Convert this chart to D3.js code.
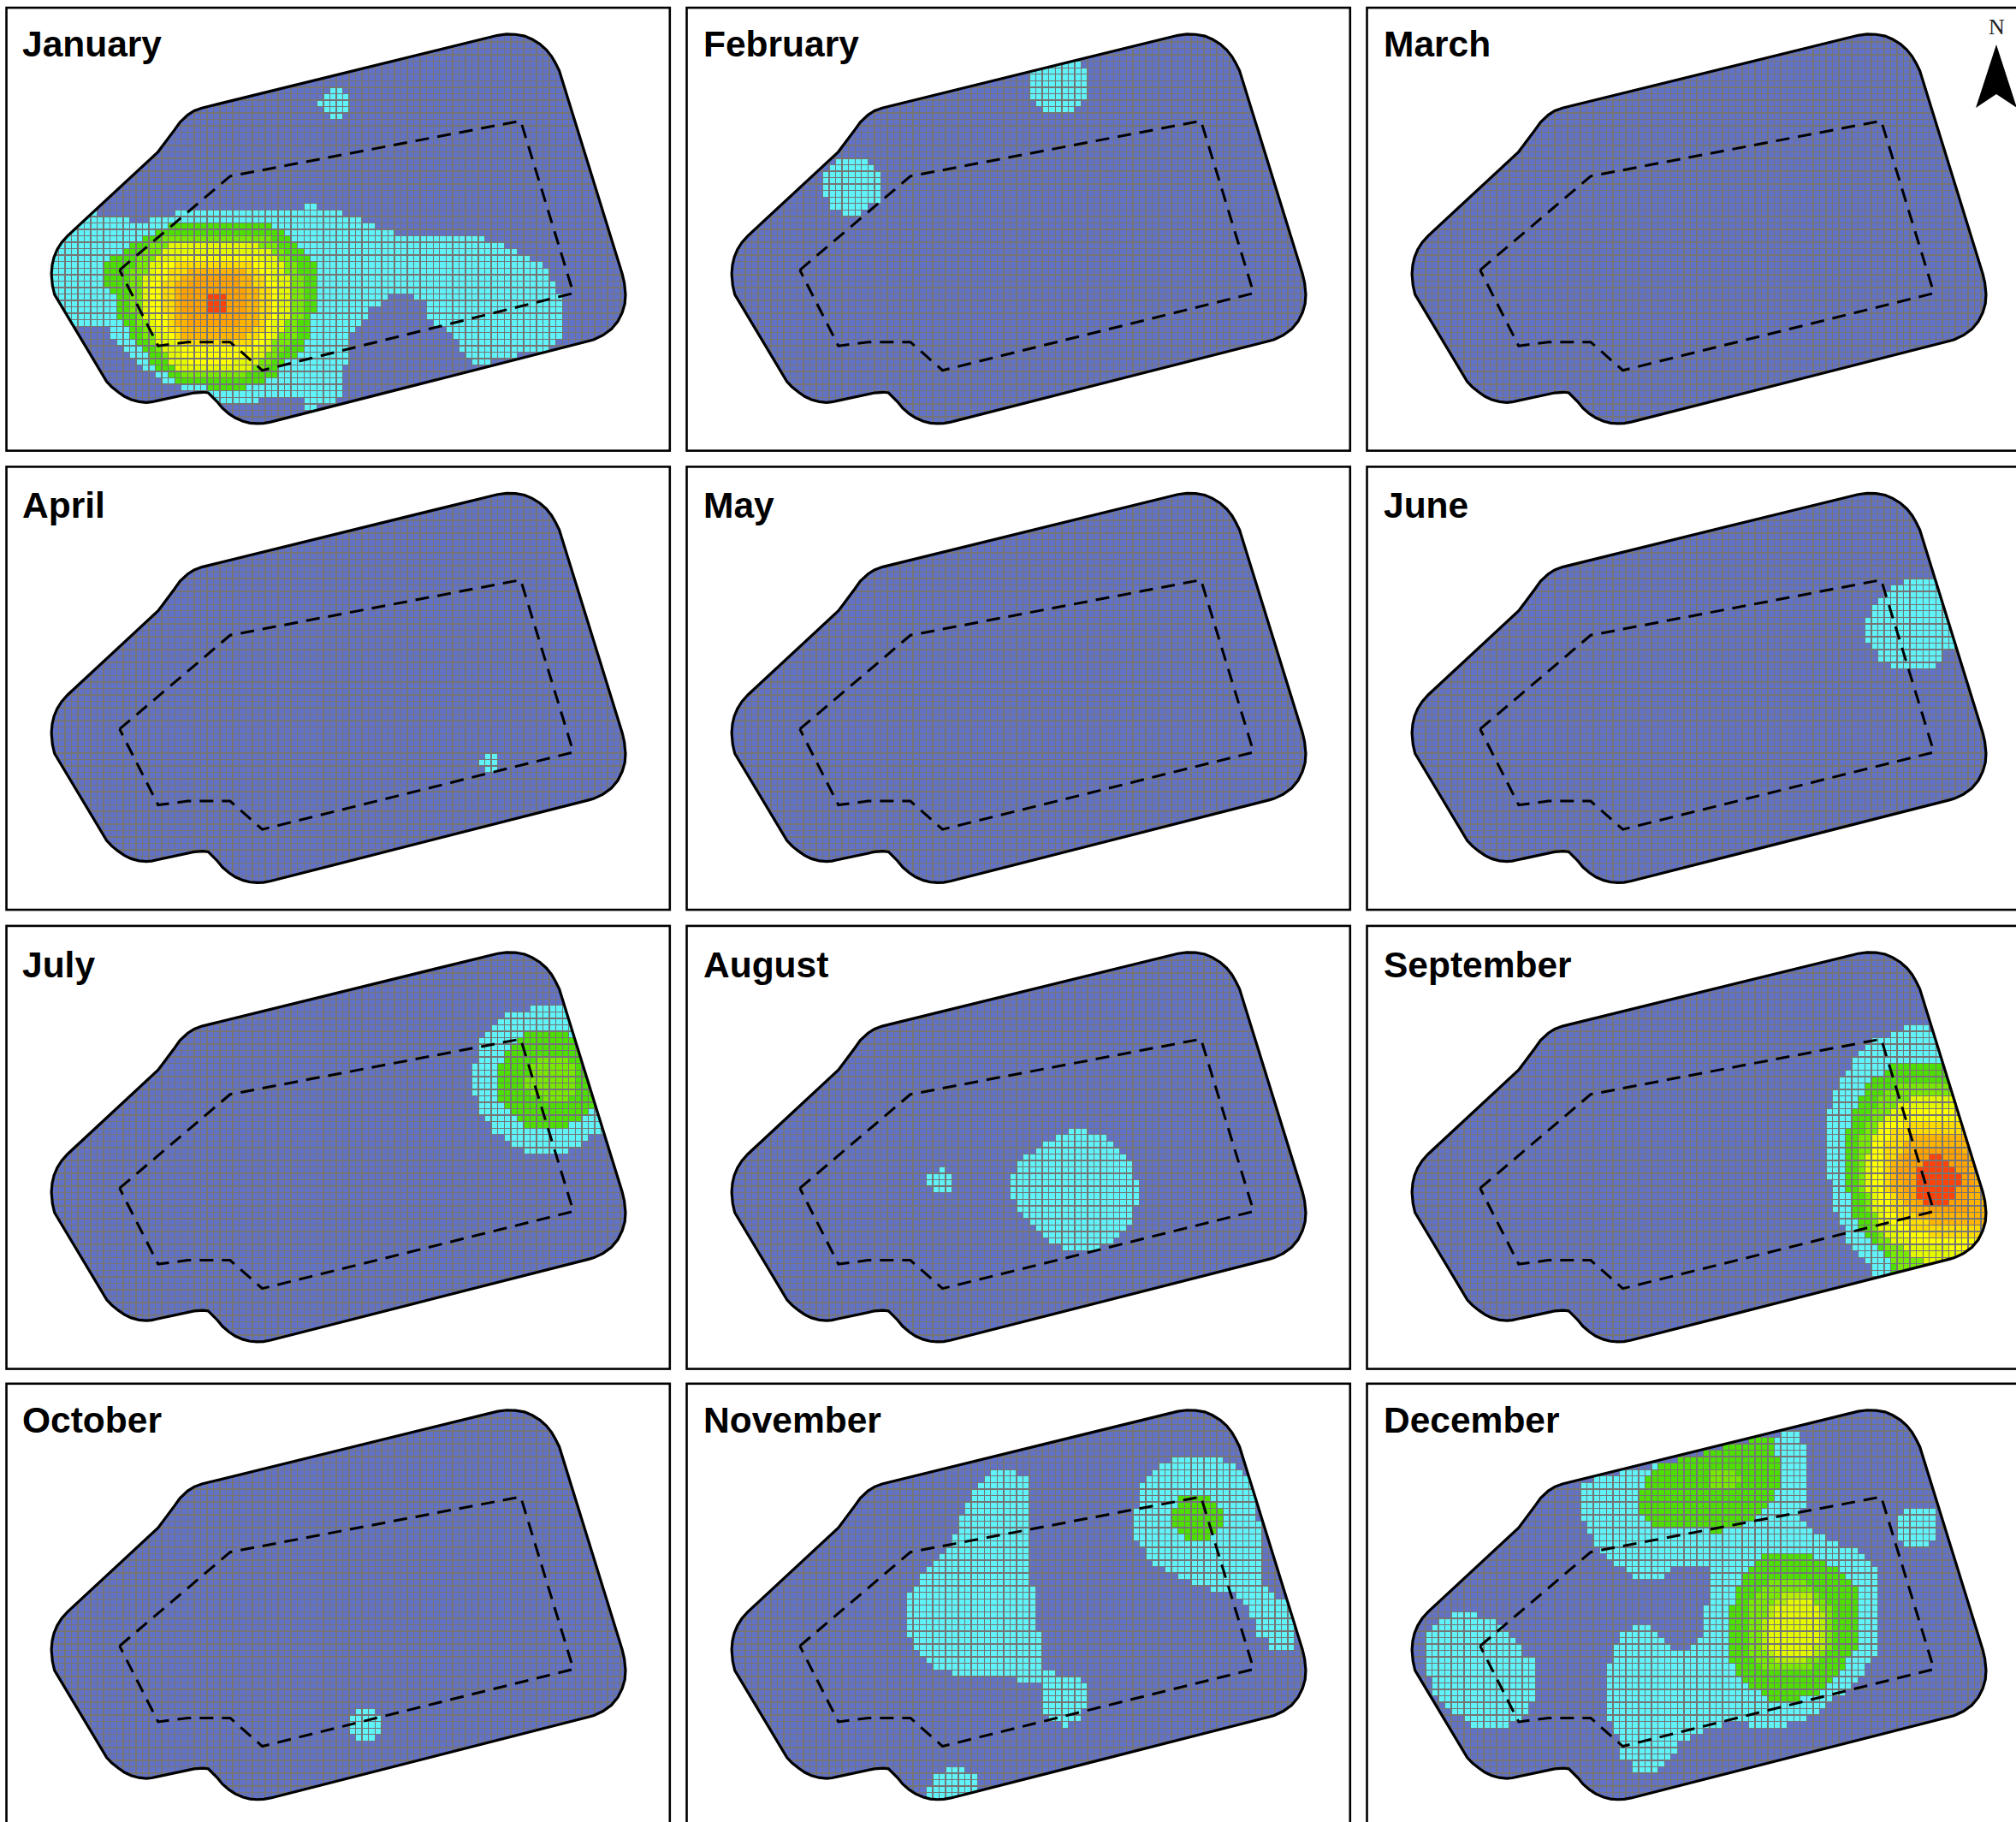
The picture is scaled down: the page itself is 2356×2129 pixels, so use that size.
<!DOCTYPE html>
<html><head><meta charset="utf-8"><style>html,body{margin:0;padding:0;background:#fff}svg{display:block}</style>
<script src="https://cdn.jsdelivr.net/npm/d3@7/dist/d3.min.js"></script></head><body><svg id="c" width="2356" height="2129"></svg>
<script>
const monthNames=["January","February","March","April","May","June","July","August","September","October","November","December"];
const levelColors=["#6272c6","#5ff2f8","#4be000","#78ea00","#b4f000","#e4f800","#ffff00","#ffdc00","#ffb400","#ffa200","#ff4208"];
const siteBoundary=[[387,27.5],[394,26.6],[401,26.8],[408,28],[414,30.6],[420,34.3],[425,38.8],[429,43.8],[432,49],[435,55],[484,213],[485.6,220],[486.5,229],[486,236],[484,243],[480.5,250],[475.5,256],[469,260.7],[462,264],[458.5,265],[210.5,328.2],[205,329.2],[200,329.4],[194.5,329],[189,327.6],[183,325],[178,321.7],[173,317.4],[169,312.5],[162,305.5],[158,305],[151,305.5],[122,311.7],[118,312.6],[113.8,313],[108,312.4],[102,310.8],[96.8,308.3],[92,305],[87,301],[83,296.8],[42.4,229],[40.8,222],[40,213],[40.6,206],[42,200],[44.5,194],[48,188.5],[52.6,183.4],[123,118],[127.5,112],[135.8,100.9],[140,95],[146,89.4],[151,86.2],[157,84],[163,82.5]];
const plantBoundary=[[93,210],[179,137],[405,94],[446,228],[204,288],[179,266],[146,266],[123,269],[93,210]];
const gridOrigin=[161.05,228.6],gridStep=5.025,gridCols=[-25,66],gridRows=[-42,22];

const january=[
[1,[[76,163],[80,168.5],[100,168.5],[100,173],[115,173],[115,168.5],[136,168.5],[136,163],[236,163],[236,158],[246,158],[246,163],[267,163],[267,168.5],[282,168.5],[282,173],[292,173],[292,178],[307,178],[307,183],[377,183],[377,188],[392,188],[392,194],[402,194],[402,199],[412,199],[418,204],[423,209],[428,214],[433,225],[438,229],[438,265],[433,265],[433,270],[368,284],[368,278.5],[363,278.5],[358,270],[353,263.5],[343,254],[333,249],[333,238],[326,232.6],[317.5,228],[307,228],[297,234],[292,238],[282,249],[277,254],[272,259],[272,285],[267,285],[267,309.4],[251,314],[236,320],[236,309.4],[200,309.4],[200,314],[170,314],[163,306],[141,305],[141,300],[131,299],[120.5,293],[115.5,289],[110,284],[105,278.5],[100,274],[95,268],[90,263.6],[85,258],[80,253],[44,253],[10,229],[10,195],[51,181]]],
[1,[[256,68],[267,68],[267,73],[272,73],[272,87],[267,87],[267,92],[256,92],[256,87],[251,87],[251,82.5],[246,82.5],[246,78],[251,78],[251,73],[256,73]]],
[2,[[141,173],[200,173],[216,178],[226,183],[231,188],[236,194],[241,199],[246,204],[246,243],[241,249],[241,263.5],[236,268],[236,274],[226,278.5],[217,284],[216,293],[205,294.5],[205,299],[182,304],[141,299],[131,293],[120.5,284],[115.5,278.5],[105,268],[100,258],[90,243],[90,229],[80,222],[80,209],[90,199],[105,189],[115.5,183],[126,178]]],
[3,[[131,183],[204,183],[217,190],[226,199],[236,218],[236,243],[231,259],[221,272],[210.5,284],[190,293],[146,293],[131,284],[115.5,268],[105,250],[100,229],[100,215],[105,202],[119,189]]],
[5,[[136,188],[197,188],[210.5,195],[221,206],[226,222],[226,243],[221,257],[210.5,268],[207,279],[190,289],[141,289],[131,279],[120.5,263.5],[115.5,254],[110,243],[110,223.5],[115.5,206],[126,197]]],
[6,[[146,199],[197,199],[210.5,208.6],[217,227],[217,243],[210.5,259],[200,274],[180,283],[149.4,283],[136,268],[122,252],[117,238],[117,222],[126,206]]],
[7,[[141,204],[195,204],[207,218],[212,238],[207,254],[195,268],[141,268],[131,254],[126,238],[126,222],[132,210]]],
[8,[[146,208],[186,208],[197,218],[202,235],[202,250],[190,262],[143,263.5],[136,250],[136,222]]],
[9,[[150,215],[183,215],[192,228],[192,245],[183,255],[150,255],[143,245],[143,225]]],
[10,[[161,228.6],[176,228.6],[176,243.6],[161,243.6]]]];
const february=[
[1,[[271.8,57.7],[276.7,50],[311.8,45],[311.8,53.3],[317.3,53.3],[317.3,77.7],[311.8,77.7],[311.8,82.5],[306.9,82.5],[306.9,87.6],[281.8,87.6],[281.8,82.5],[276.7,82.5],[276.7,77.7],[271.8,77.7]]],
[1,[[121.4,123.1],[145.8,123.1],[145.8,128.2],[151,128.2],[151,133.1],[156,133.1],[156,157.5],[151,157.5],[145.8,162.4],[141,167.5],[126.5,167.5],[126.5,162.4],[116.6,162.4],[116.6,153.1],[111.5,153.1],[111.5,133.1],[116.6,133.1],[116.6,128.2],[121.4,128.2]]]];
const march=[];
const april=[[1,[[377.1,228.6],[387.2,228.6],[387.2,243.7],[377.1,243.7],[377.1,238.7],[372.1,238.7],[372.1,233.6],[377.1,233.6]]]];
const may=[];
const june=[[1,[[423.2,93],[450,93],[470,147.1],[458.2,147.1],[453.1,152.2],[453.1,157.3],[448.3,157.3],[448.3,162.2],[412.8,162.2],[412.8,157.3],[402.8,157.3],[402.8,147.1],[397.7,147.1],[397.7,142.6],[392.8,142.6],[392.8,122.2],[397.7,122.2],[397.7,112.7],[402.8,112.7],[402.8,107.8],[407.7,107.8],[407.7,102.7],[412.8,102.7],[412.8,97.8],[423.2,97.8]]]];
const july=[
[1,[[412.5,66.8],[438,66.8],[441.4,72.4],[480,100],[480,166.6],[462.5,167.8],[452.5,172.2],[452.5,176.6],[442.5,176.6],[442.5,182.2],[408,182.2],[408,176.6],[397,176.6],[397,172.2],[392.6,172.2],[392.6,167.8],[382.6,166.6],[382.6,157.1],[377,157.1],[377,152.2],[372.6,152.2],[372.6,142.2],[367.7,136.7],[367.7,112.3],[372.6,112.3],[372.6,97.4],[377,92.3],[382.6,87.9],[387,82.4],[392.6,76.8],[398,72.4],[412.5,72.4]]],
[2,[[402.6,92.3],[407,92.3],[407,87.2],[442.5,87.2],[445,92.3],[480,120],[480,146.7],[458,146.7],[458,152.2],[452.5,152.2],[452.5,157.3],[442.5,157.3],[442.5,162.2],[408,162.2],[408,157.3],[402.6,157.3],[402.6,152.2],[397.5,152.2],[397.5,147.1],[392.6,147.1],[392.6,142.2],[387.7,142.2],[387.7,112.3],[392.6,112.3],[392.6,102.3],[397.5,102.3],[397.5,97.4],[402.6,97.4]]],
[3,[[419,106.8],[438,106.8],[448,116.7],[448,135.6],[441.4,142.2],[422.5,142.2],[412.5,135.6],[407,126.7],[412.5,115.6]]]];
const august=[
[1,[[302.4,162.6],[317.3,162.6],[317.3,167.7],[332.2,167.7],[332.2,172.6],[337.3,172.6],[337.3,177.7],[342.4,177.7],[342.4,182.6],[347.2,182.6],[347.2,187.7],[352.1,187.7],[352.1,202.6],[357.2,202.6],[357.2,222.1],[352.1,222.1],[352.1,237.2],[347.2,237.2],[347.2,242.1],[342.4,242.1],[342.4,247.6],[337.3,247.6],[337.3,252.7],[327.3,252.7],[327.3,257.6],[297.3,257.6],[297.3,252.7],[287.4,252.7],[287.4,247.6],[282.5,247.6],[282.5,242.1],[277.4,242.1],[277.4,237.2],[272.3,237.2],[272.3,232.1],[267.4,232.1],[267.4,227.2],[262.3,227.2],[262.3,217.2],[257.4,217.2],[257.4,197.7],[262.3,197.7],[262.3,187.7],[267.4,187.7],[267.4,182.6],[277.4,182.6],[277.4,177.7],[282.5,177.7],[282.5,172.6],[292.5,172.6],[292.5,167.7],[302.4,167.7]]],
[1,[[202,192.8],[206.4,192.8],[206.4,197.7],[211.3,197.7],[211.3,212.1],[196.9,212.1],[196.9,207.7],[192,207.7],[192,197.7],[202,197.7]]]];
const september=[
[1,[[423.8,82.4],[442.7,82.4],[450.5,93.5],[501.5,182.2],[501.5,277.6],[397.2,277.6],[397.2,273.2],[392.8,267.6],[387.2,262.5],[382.8,257.6],[377.3,252.1],[377.3,242.1],[372.8,236.6],[372.8,226.6],[367.7,226.6],[367.7,207.1],[362.8,202.2],[362.8,147.8],[367.7,142.3],[367.7,137.2],[372.8,132.3],[372.8,127.2],[377.3,122.3],[382.8,112.3],[387.2,107.2],[392.8,102.4],[397.7,96.8],[402.8,92.4],[412.7,92.4],[412.7,87.3],[423.8,87.3]]],
[2,[[417.6,112.3],[451.6,112.3],[501.5,182.2],[501.5,277.6],[412.7,277.6],[412.7,267.6],[402.8,258.7],[397.7,253.2],[392.8,247.7],[387.2,239.9],[382.8,232.1],[382.8,217.7],[377.3,207.7],[377.3,172.2],[382.8,152.3],[387.2,142.3],[392.8,132.3],[397.7,127.2],[402.8,122.3],[412.7,117.4]]],
[3,[[412.7,132.3],[434.9,126.8],[457,126.8],[501.5,182.2],[501.5,277.6],[419.4,277.6],[412.7,264.3],[402.8,251],[397.7,239.9],[392.8,224.4],[387.2,204.4],[387.2,177.8],[392.8,160],[402.8,142.3]]],
[5,[[438.3,137.8],[461.5,137.8],[501.5,182.2],[501.5,277.6],[452.7,277.6],[432.7,264.3],[422.7,257.6],[412.7,251],[402.8,239.9],[397.7,224.4],[392.8,208.8],[392.8,193.3],[397.7,173.3],[402.8,162.2],[412.7,147.8],[422.7,142.3]]],
[6,[[428.3,147.8],[463.8,147.8],[501.5,182.2],[501.5,257.6],[470.4,259.9],[457,255.4],[434.9,255.4],[422.7,246.5],[408.3,233.2],[402.8,215.5],[398.3,202.2],[398.3,180],[402.8,166.7],[412.7,157.8]]],
[7,[[432.7,157.8],[463.8,157.8],[501.5,182.2],[501.5,248.8],[479.3,248.8],[454.9,248.8],[432.7,244.3],[422.7,235.5],[412.7,224.4],[408.3,211],[408.3,177.8],[412.7,166.7],[422.7,160]]],
[8,[[432.7,167.8],[463.8,167.8],[501.5,182.2],[501.5,237.7],[477,237.7],[450.5,237.7],[432.7,233.2],[422.7,222.1],[412.7,208.8],[412.7,191],[422.7,177.8]]],
[9,[[438.3,177.8],[461.5,177.8],[472.6,186.6],[477,204.4],[472.6,226.6],[452.7,228.8],[434.9,224.4],[422.7,213.3],[417.6,197.7],[422.7,186.6],[432.7,182.2]]],
[10,[[443.1,182.9],[452.7,182.9],[452.7,187.8],[457.1,187.8],[457.1,192.9],[462.7,192.9],[462.7,197.7],[467.8,197.7],[467.8,207.3],[462.7,207.3],[462.7,217.3],[457.1,217.3],[457.1,222.1],[438.3,222.1],[438.3,217.3],[433.2,217.3],[433.2,192.9],[438.3,192.9],[438.3,187.8],[443.1,187.8]]]];
const october=[[1,[[276.9,258.8],[291.8,258.8],[291.8,263.9],[296.6,263.9],[296.6,278.8],[291.8,278.8],[291.8,283.6],[276.9,283.6],[276.9,278.8],[271.8,278.8],[271.8,263.9],[276.9,263.9]]]];
const november=[
[1,[[241.8,72.9],[261.6,72.9],[261.6,77.9],[266.6,77.9],[271.6,82.8],[271.6,143],[276.5,183.4],[281.5,208.1],[281.5,228.3],[291.4,228.3],[291.4,233.2],[311.3,233.2],[316.2,238.4],[316.2,258.6],[311.3,263.1],[311.3,268.3],[301.4,268.3],[301.4,273.2],[298,273.2],[298,268.3],[286.5,268.3],[281.5,257.5],[281.5,242.9],[276.5,238.4],[261.6,238.4],[261.6,232.8],[212,232.8],[212,228.3],[197,228.3],[187.1,218.2],[182.2,212.6],[177.2,202.5],[177.2,173.3],[182.2,163.2],[187.1,157.6],[192,148.6],[202,138.5],[212,128.4],[216.9,113.8],[221.9,103.7],[226.9,88],[231.8,82.4],[236.8,77.9],[241.8,77.9]]],
[1,[[382.5,62.6],[422.2,62.6],[422.2,67.8],[432.1,67.8],[437,72.9],[447,84.6],[448.7,107],[453.6,131.8],[453.6,163.2],[458.6,168.8],[468.5,173.3],[473.5,178.9],[478.5,196.9],[480,212.6],[458.6,212.6],[458.6,203.6],[448.7,203.6],[448.7,193.5],[443.7,187.9],[438.7,177.8],[428.8,168.8],[414,167.7],[414,163.2],[399,163.2],[399,157.6],[387.4,157.6],[387.4,153.1],[377.5,153.1],[377.5,147.5],[367.6,147.5],[362.6,138.5],[357.6,132.9],[352.7,122.8],[352.7,102.6],[357.6,98],[357.6,82.4],[362.6,77.9],[367.6,72.9],[372.6,67.8],[382.5,67.8]]],
[1,[[207,304.2],[221.9,304.2],[221.9,309.1],[226.9,309.1],[231.8,314.7],[231.8,325],[215.3,329.3],[192,329.3],[192,319.2],[197,314.7],[197,309.1],[207,309.1]]],
[2,[[387.4,93.1],[412.2,93.1],[412.2,98],[417.2,98],[422.2,103.7],[422.2,117.2],[412.2,122.8],[412.2,127.3],[392.4,127.3],[392.4,122.8],[382.5,116],[382.5,103.7],[387.4,99.2]]]];
const december=[
[1,[[71,183],[91,183],[91,188],[106,188],[106,193.5],[110.5,193.5],[115.5,202.5],[120.3,208],[125,212.6],[130,218],[135,219],[135,252.6],[130,254],[130,264],[120.3,268.7],[115.5,273],[91,273],[81,268],[76,263],[66,258.7],[61,253],[56,243],[51,228.3],[51,198],[61,189],[71,188]]],
[1,[[176.3,81.2],[230.7,68.9],[341,42],[342.6,52.7],[347.6,52.7],[347.6,98],[342.6,102.6],[342.6,112.7],[347.6,117.2],[357.5,123.9],[367.3,128.4],[382.2,134],[392,138.5],[402,148.6],[402,218.2],[397,223.8],[392,228.3],[387,238.4],[372.3,248.5],[357.5,258.6],[347.6,267.6],[332.8,267.6],[332.8,273.2],[303,273.2],[303,268.3],[267,273.2],[267,278.1],[247,283.3],[247,287.8],[240.5,298],[235.6,303.5],[225.7,308],[212.5,308],[212.5,303.5],[202.7,298],[201,287.8],[196,273.2],[191,263.1],[191,228.3],[196,223.8],[196,213.7],[201,203.6],[206,198],[217.5,193.5],[225.7,193.5],[230.7,198],[240.5,210.3],[252,213.7],[262,208],[267,196.9],[267,183.4],[272,172.2],[272,152],[267,147.5],[250.4,147.5],[235.6,153.1],[235.6,157.6],[212.5,157.6],[212.5,153.1],[201,148.6],[196,143],[191,138.5],[181.2,128.4],[176.3,117.2],[171.4,108.2],[171.4,86.9]]],
[1,[[423.3,103],[443,103],[448,108.2],[448,127.3],[443,132.2],[423.3,132.2],[418.4,127.3],[418.4,108.2]]],
[2,[[237,68],[316.3,46.4],[323,51],[323,62],[328,62],[328,83.5],[323,89.1],[318,102.6],[309.7,108.2],[303,113.8],[276.8,122.8],[267,117.2],[230.7,117.2],[220.8,112.7],[217.5,102.6],[217.5,89.1],[224,77.9],[230.7,72.3]]],
[2,[[311.4,138.5],[347.6,138.5],[357.5,143],[367.3,147.5],[377.2,157.6],[387,167.7],[387,208],[377.2,223.8],[377.2,228.3],[367.3,238.4],[362.4,242.9],[352.6,248.5],[337.7,253],[318,253],[318,248.5],[303,242.9],[291.6,228.3],[286.6,218.2],[286.6,183.4],[291.6,172.2],[296.5,157.6],[306.4,147.5]]],
[3,[[270,76],[292,72],[298,82],[288,90],[270,90]]],
[3,[[318,160],[345,160],[360,172],[368,185],[368,208],[358,222],[342,230],[320,230],[307,222],[300,210],[300,185],[306,170]]],
[4,[[326,170],[349,170],[358,181],[361,190],[361,210],[354,219],[345,222],[322,222],[314,214],[314,190],[320,177]]],
[5,[[332.8,173.3],[347.6,173.3],[352.6,179],[357.5,183.4],[357.5,208],[352.6,212.6],[347.6,218.2],[322.9,218.2],[318,212.6],[318,192.4],[322.9,179],[332.8,179]]]];
const monthContours=[january,february,march,april,may,june,july,august,september,october,november,december];

const panelX=[0,795,1590],panelY=[0,536.4,1072.9,1607.8];
const titleX=[26,27,27],titleY=[66,69,69.5,66];
const x=d3.scaleLinear().domain([0,521]).range([0,782.8]);
const y=d3.scaleLinear().domain([0,350]).range([0,525.9]);
const svg=d3.select("#c");
const outline=d3.line().x(d=>x(d[0])).y(d=>y(d[1])).curve(d3.curveLinearClosed);
const dashes=d3.line().x(d=>x(d[0])).y(d=>y(d[1]));
svg.append("defs").append("clipPath").attr("id","site").append("path").attr("d",outline(siteBoundary));

const cols=d3.range(gridCols[0],gridCols[1]),rows=d3.range(gridRows[0],gridRows[1]);
const inSite=(u,v)=>d3.polygonContains(siteBoundary,[u,v]);
const gridCells=[];
rows.forEach(r=>cols.forEach(c=>{
  const u=gridOrigin[0]+c*gridStep,v=gridOrigin[1]+r*gridStep;
  if(inSite(u,v)||inSite(u+gridStep,v)||inSite(u,v+gridStep)||inSite(u+gridStep,v+gridStep)||inSite(u+gridStep/2,v+gridStep/2))
    gridCells.push({u,v,cu:u+gridStep/2,cv:v+gridStep/2});
}));

monthNames.forEach((name,i)=>{
  const col=i%3,row=Math.floor(i/3),contours=monthContours[i];
  const g=svg.append("g").attr("transform",`translate(${panelX[col]},${panelY[row]})`);
  g.append("rect").attr("x",x(5)).attr("y",y(6)).attr("width",x(516)).attr("height",y(344.5))
    .attr("fill","#fff").attr("stroke","#000").attr("stroke-width",2.6);
  g.append("g").attr("clip-path","url(#site)").attr("shape-rendering","crispEdges").selectAll("rect").data(gridCells).join("rect")
    .attr("x",d=>x(d.u)).attr("y",d=>y(d.v)).attr("width",x(gridStep)).attr("height",y(gridStep))
    .attr("stroke","#757575").attr("stroke-width",1.4)
    .attr("fill",d=>{
      let lvl=0;
      contours.forEach(([l,ring])=>{if(l>lvl&&d3.polygonContains(ring,[d.cu,d.cv]))lvl=l;});
      return levelColors[lvl];
    });
  g.append("path").attr("d",outline(siteBoundary)).attr("fill","none").attr("stroke","#000").attr("stroke-width",3.2);
  g.append("path").attr("d",dashes(plantBoundary)).attr("fill","none").attr("stroke","#000")
    .attr("stroke-width",3).attr("stroke-dasharray","16 10");
  g.append("text").attr("x",titleX[col]).attr("y",titleY[row]).attr("font-family","Liberation Sans")
    .attr("font-weight","bold").attr("font-size",42.5).attr("fill","#000").text(name);
});
svg.append("path").attr("d",d3.line()([[2333,52],[2357,126],[2333,110],[2309,126]])+"Z").attr("fill","#000");
svg.append("text").attr("x",2333.5).attr("y",40).attr("text-anchor","middle").attr("font-family","Liberation Serif").attr("font-size",26).attr("fill","#222").text("N");
</script></body></html>
